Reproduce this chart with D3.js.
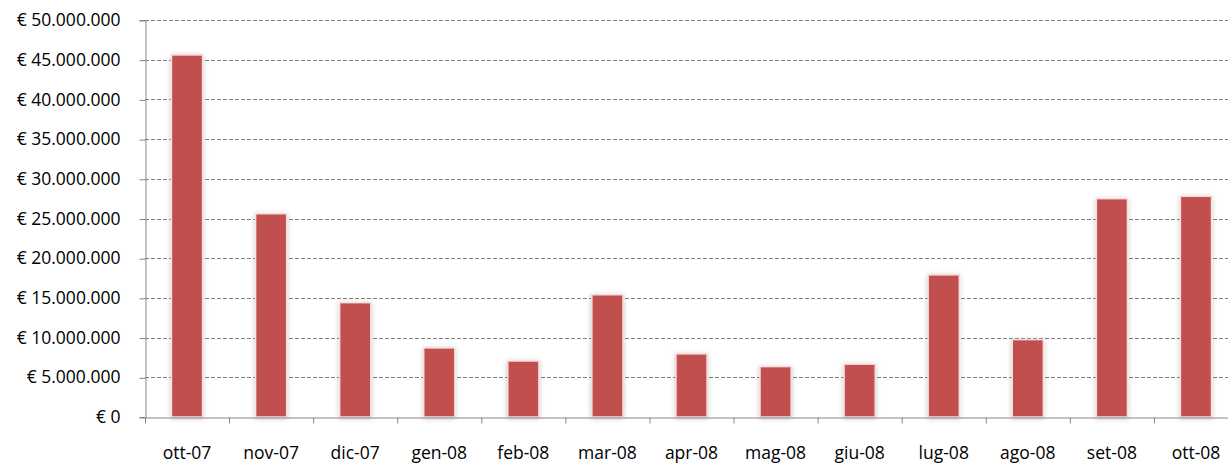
<!DOCTYPE html>
<html>
<head>
<meta charset="utf-8">
<script src="https://cdn.jsdelivr.net/npm/d3@7"></script>
<style>
  body { margin: 0; background: #fff; }
  svg { display: block; }
  .tick text { font-family: "Open Sans", "Noto Sans", sans-serif; font-size: 17.5px; fill: #000; }
</style>
</head>
<body>
<svg width="1228" height="463"></svg>
<script>
// months and values (euro)
var months = ["ott-07", "nov-07", "dic-07", "gen-08", "feb-08", "mar-08", "apr-08",
              "mag-08", "giu-08", "lug-08", "ago-08", "set-08", "ott-08"];
var values = [45600000, 25600000, 14400000, 8700000, 7050000, 15400000, 7950000,
              6350000, 6650000, 17900000, 9750000, 27500000, 27800000];
var yTicks = [0, 5000000, 10000000, 15000000, 20000000, 25000000, 30000000,
              35000000, 40000000, 45000000, 50000000];

var layout = {x: 145, y: 20, w: 1093, h: 397};

var svg = d3.select("svg");

var defs = svg.append("defs");
var filter = defs.append("filter")
    .attr("id", "glow")
    .attr("x", "-40%").attr("y", "-10%")
    .attr("width", "180%").attr("height", "120%");
filter.append("feDropShadow")
    .attr("dx", 0).attr("dy", 1)
    .attr("stdDeviation", 2.5)
    .attr("flood-color", "#000")
    .attr("flood-opacity", 0.22);

var xScale = d3.scaleBand()
    .domain(months)
    .range([layout.x, layout.x + layout.w])
    .paddingInner(0.63)
    .paddingOuter(0.315);

var yScale = d3.scaleLinear()
    .domain([0, 50000000])
    .range([layout.y + layout.h, layout.y]);

function euro(v) {
    return "€ " + d3.format(",")(v).replace(/,/g, ".");
}

// gridlines
svg.append("g")
    .attr("id", "grid")
    .selectAll("line")
    .data(yTicks.slice(1))
    .enter().append("line")
    .attr("x1", layout.x)
    .attr("x2", layout.x + layout.w)
    .attr("y1", function(d) { return Math.round(yScale(d)) + 0.5; })
    .attr("y2", function(d) { return Math.round(yScale(d)) + 0.5; })
    .attr("stroke", "#808080")
    .attr("stroke-width", 1)
    .attr("stroke-dasharray", "4,2");

// y axis
var yAxis = svg.append("g")
    .attr("transform", "translate(" + (layout.x + 0.5) + ",0)")
    .call(d3.axisLeft(yScale).tickValues(yTicks).tickFormat(euro).tickSize(6).tickPadding(19));
yAxis.selectAll("line, path").attr("stroke", "#868686");
yAxis.selectAll(".tick line").attr("transform", "translate(0,0.5)");

// bars
svg.append("g")
    .attr("id", "bars")
    .selectAll("rect")
    .data(values)
    .enter().append("rect")
    .attr("x", function(d, i) { return xScale(months[i]); })
    .attr("y", function(d) { return yScale(d); })
    .attr("width", xScale.bandwidth())
    .attr("height", function(d) { return yScale(0) - yScale(d); })
    .attr("fill", "#C0504D")
    .attr("stroke", "#f4dddc")
    .attr("stroke-width", 1.5)
    .attr("filter", "url(#glow)");

// x axis
var xAxis = svg.append("g")
    .attr("transform", "translate(0," + (layout.y + layout.h + 0.5) + ")")
    .call(d3.axisBottom(xScale).tickSize(0).tickPadding(29));
xAxis.select(".domain").attr("stroke", "#868686");

// category boundary ticks
var step = xScale.step();
xAxis.selectAll("line.sep")
    .data(d3.range(months.length + 1))
    .enter().append("line")
    .attr("class", "sep")
    .attr("x1", function(i) { return layout.x + 0.5 + i * step; })
    .attr("x2", function(i) { return layout.x + 0.5 + i * step; })
    .attr("y1", 0)
    .attr("y2", 6)
    .attr("stroke", "#868686");
</script>
</body>
</html>
